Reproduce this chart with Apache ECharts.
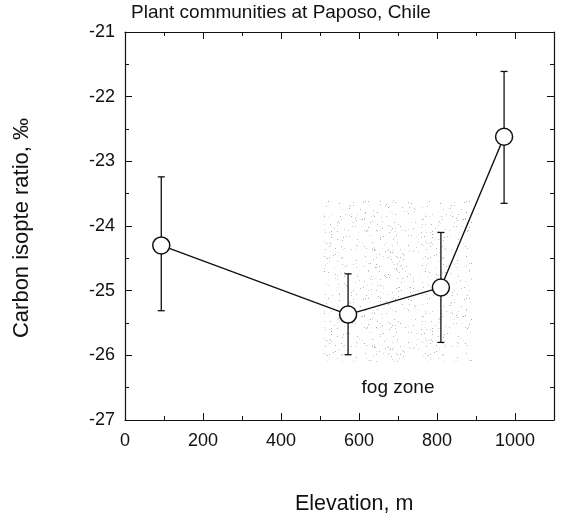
<!DOCTYPE html>
<html>
<head>
<meta charset="utf-8">
<script src="https://cdn.jsdelivr.net/npm/echarts@6/dist/echarts.min.js"></script>
<style>
html,body{margin:0;padding:0;background:#fff;}
#chart{width:564px;height:518px;}
</style>
</head>
<body>
<div id="chart"></div>
<script>
// Data
var elevation = [93, 572, 810, 972];
var ratio = [-24.30, -25.37, -24.95, -22.62];
var errLow = [-25.31, -25.99, -25.80, -23.65];
var errHigh = [-23.24, -24.74, -24.10, -21.61];
var fogX = [510, 890];
var fogY = [-26.1, -23.6];
var fogLabelAt = [700, -26.5];
var xTicks = [0, 200, 400, 600, 800, 1000];
var yTicks = [-27, -26, -25, -24, -23, -22, -21];

var FONT = '"Liberation Sans", Arial, Helvetica, sans-serif';
var INK = '#111';

var linePts = elevation.map(function (x, i) { return [x, ratio[i]]; });
var errPts = elevation.map(function (x, i) { return [x, errLow[i], errHigh[i]]; });

// stipple texture for the fog zone (decoration only, fixed integer hash)
function makeStipple() {
  var W = 101, H = 97;
  var c = document.createElement('canvas');
  c.width = W; c.height = H;
  var g = c.getContext('2d');
  g.fillStyle = '#ffffff';
  g.fillRect(0, 0, W, H);
  var h = 12345;
  function nxt() { h = (h * 1103515245 + 12345) & 0x7fffffff; return h >>> 12; }
  for (var i = 0; i < 380; i++) {
    var px = nxt() % W;
    var py = nxt() % H;
    var shade = 170 + nxt() % 65;
    g.fillStyle = 'rgb(' + shade + ',' + shade + ',' + shade + ')';
    g.fillRect(px, py, 1, 1);
  }
  return c;
}
var stipple = makeStipple();

var chart = echarts.init(document.getElementById('chart'), null, {renderer: 'canvas'});

function axisCommon(showLabel) {
  return {
    axisLine: {show: true, onZero: false, lineStyle: {color: INK, width: 1.2}},
    axisTick: {show: true, inside: true, length: 7, lineStyle: {color: INK, width: 1}},
    minorTick: {show: true, splitNumber: 2, length: 4, lineStyle: {color: INK, width: 1}},
    splitLine: {show: false},
    minorSplitLine: {show: false},
    axisLabel: {show: showLabel, color: INK, fontSize: 18, fontFamily: FONT}
  };
}

var xBottom = Object.assign(axisCommon(true), {
  type: 'value', min: 0, max: 1100, interval: 200, position: 'bottom'
});
xBottom.axisLabel.margin = 12;
xBottom.axisLabel.formatter = function (v) { return xTicks.indexOf(v) >= 0 ? String(v) : ''; };
var xTop = Object.assign(axisCommon(false), {
  type: 'value', min: 0, max: 1100, interval: 200, position: 'top'
});
var yLeft = Object.assign(axisCommon(true), {
  type: 'value', min: -27, max: -21, interval: 1, position: 'left'
});
yLeft.axisLabel.margin = 10;
yLeft.axisLabel.formatter = function (v) { return yTicks.indexOf(v) >= 0 ? String(v) : ''; };
var yRight = Object.assign(axisCommon(false), {
  type: 'value', min: -27, max: -21, interval: 1, position: 'right'
});

var option = {
  animation: false,
  backgroundColor: '#fff',
  title: {
    text: 'Plant communities at Paposo, Chile',
    left: 131, top: 3, padding: 0,
    textStyle: {fontSize: 19, fontWeight: 'normal', color: INK, fontFamily: FONT}
  },
  grid: {left: 125, right: 10, top: 32, bottom: 98, containLabel: false},
  xAxis: [xBottom, xTop],
  yAxis: [yLeft, yRight],
  graphic: [
    {
      type: 'text', left: 295, top: 493,
      style: {text: 'Elevation, m', fontSize: 21.5, fontFamily: FONT, fill: INK}
    },
    {
      type: 'text', x: 22, y: 228, rotation: Math.PI / 2,
      style: {text: 'Carbon isopte ratio, \u2030', fontSize: 22, fontFamily: FONT, fill: INK,
              align: 'center', verticalAlign: 'middle'}
    }
  ],
  series: [
    {
      type: 'line',
      xAxisIndex: 0, yAxisIndex: 0,
      data: linePts,
      z: 3,
      lineStyle: {color: INK, width: 1.4},
      symbol: 'circle',
      symbolSize: 17,
      showAllSymbol: true,
      itemStyle: {color: '#fff', borderColor: INK, borderWidth: 1.5},
      markArea: {
        silent: true,
        z: 1,
        itemStyle: {color: {image: stipple, repeat: 'repeat'}},
        data: [[{coord: [fogX[0], fogY[1]]}, {coord: [fogX[1], fogY[0]]}]]
      },
      markPoint: {
        silent: true,
        symbol: 'circle',
        symbolSize: 1,
        itemStyle: {color: 'rgba(0,0,0,0)'},
        label: {show: true, position: 'inside', formatter: 'fog zone', color: INK, fontSize: 19, fontFamily: FONT},
        data: [{coord: fogLabelAt}]
      }
    },
    {
      type: 'custom',
      xAxisIndex: 0, yAxisIndex: 0,
      z: 2,
      data: errPts,
      renderItem: function (params, api) {
        var x = api.value(0);
        var lo = api.coord([x, api.value(1)]);
        var hi = api.coord([x, api.value(2)]);
        var cw = 3.5;
        var st = {stroke: INK, lineWidth: 1.3};
        return {
          type: 'group',
          children: [
            {type: 'line', shape: {x1: lo[0], y1: lo[1], x2: hi[0], y2: hi[1]}, style: st},
            {type: 'line', shape: {x1: lo[0] - cw, y1: lo[1], x2: lo[0] + cw, y2: lo[1]}, style: st},
            {type: 'line', shape: {x1: hi[0] - cw, y1: hi[1], x2: hi[0] + cw, y2: hi[1]}, style: st}
          ]
        };
      }
    }
  ]
};
chart.setOption(option);
</script>
</body>
</html>
